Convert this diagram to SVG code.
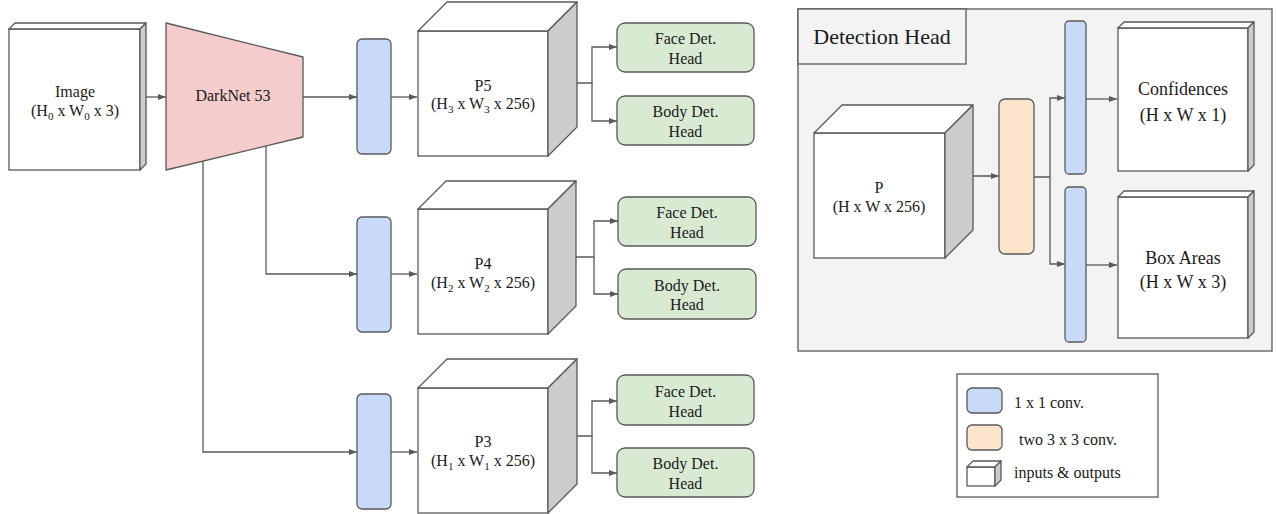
<svg xmlns="http://www.w3.org/2000/svg" width="1276" height="514" viewBox="0 0 1276 514" font-family="Liberation Serif, serif">
<style>
.ln{fill:none;stroke:#595959;stroke-width:1.3}
.ar{marker-end:url(#ah)}
.fr{fill:#ffffff;stroke:#595959;stroke-width:1.3}
.sd{fill:#cccccc;stroke:#595959;stroke-width:1.3;stroke-linejoin:round}
.tp{fill:#ffffff;stroke:#595959;stroke-width:1.3;stroke-linejoin:round}
.conv{fill:#c9daf8;stroke:#595959;stroke-width:1.3}
.c33{fill:#fce5cd;stroke:#595959;stroke-width:1.3}
.hd{fill:#d9ead3;stroke:#595959;stroke-width:1.3}
text{font-family:'Liberation Serif',serif;fill:#1a1a1a;font-size:16px}
.m{text-anchor:middle}
.l18{font-size:18px}
.sub{font-size:11px}
</style>
<defs>
<marker id="ah" markerUnits="userSpaceOnUse" markerWidth="9" markerHeight="7" refX="8" refY="3.5" orient="auto">
<path d="M0,0.5 L8,3.5 L0,6.5 z" fill="#595959"/>
</marker>
</defs>

<g id="connectors">
<path class="ln ar" d="M146,97 H166"/>
<path class="ln ar" d="M303,97 H357"/>
<path class="ln ar" d="M391,97 H417"/>
<path class="ln ar" d="M567,83 H592 V47 H617"/>
<path class="ln ar" d="M592,83 V121 H617"/>
<path class="ln ar" d="M266,146 V274 H357"/>
<path class="ln ar" d="M391,274 H417"/>
<path class="ln ar" d="M568,257 H594 V221 H618"/>
<path class="ln ar" d="M594,257 V294 H618"/>
<path class="ln ar" d="M203,161 V452 H357"/>
<path class="ln ar" d="M391,452 H417"/>
<path class="ln ar" d="M567,436 H592 V401 H617"/>
<path class="ln ar" d="M592,436 V473 H617"/>
</g>

<g id="image">
<rect class="fr" x="9" y="29" width="131" height="141"/>
<polygon class="tp" points="9,29 15,23 146,23 140,29"/>
<polygon class="sd" points="140,29 146,23 146,164 140,170"/>
<text class="m" x="75" y="97">Image</text>
<text class="m" x="75" y="116">(H<tspan class="sub" dy="4">0</tspan><tspan dy="-4"> x W</tspan><tspan class="sub" dy="4">0</tspan><tspan dy="-4"> x 3)</tspan></text>
</g>

<g id="darknet">
<polygon points="166,23 303,57 303,137 166,170" fill="#f4cccc" stroke="#595959" stroke-width="1.3" stroke-linejoin="round"/>
<text class="m" x="233" y="101">DarkNet 53</text>
</g>

<g id="conv5"><rect class="conv" x="357" y="39" width="34" height="115" rx="5"/></g>
<g id="conv4"><rect class="conv" x="357" y="217" width="34" height="115" rx="5"/></g>
<g id="conv3"><rect class="conv" x="357" y="394" width="34" height="115" rx="5"/></g>

<g id="p5">
<rect class="fr" x="418" y="31" width="130" height="125"/>
<polygon class="tp" points="418,31 447,2 577,2 548,31"/>
<polygon class="sd" points="548,31 577,2 577,127 548,156"/>
<text class="m" x="483" y="91">P5</text>
<text class="m" x="483" y="108.5">(H<tspan class="sub" dy="4">3</tspan><tspan dy="-4"> x W</tspan><tspan class="sub" dy="4">3</tspan><tspan dy="-4"> x 256)</tspan></text>
</g>

<g id="p4">
<rect class="fr" x="418" y="209" width="130" height="125"/>
<polygon class="tp" points="418,209 446,181 576,181 548,209"/>
<polygon class="sd" points="548,209 576,181 576,306 548,334"/>
<text class="m" x="483" y="269">P4</text>
<text class="m" x="483" y="288">(H<tspan class="sub" dy="4">2</tspan><tspan dy="-4"> x W</tspan><tspan class="sub" dy="4">2</tspan><tspan dy="-4"> x 256)</tspan></text>
</g>

<g id="p3">
<rect class="fr" x="418" y="388" width="130" height="125"/>
<polygon class="tp" points="418,388 447,359 577,359 548,388"/>
<polygon class="sd" points="548,388 577,359 577,484 548,513"/>
<text class="m" x="483" y="447">P3</text>
<text class="m" x="483" y="466">(H<tspan class="sub" dy="4">1</tspan><tspan dy="-4"> x W</tspan><tspan class="sub" dy="4">1</tspan><tspan dy="-4"> x 256)</tspan></text>
</g>

<g id="face5"><rect class="hd" x="617" y="23" width="137" height="49" rx="8"/>
<text class="m" x="685.5" y="44">Face Det.</text><text class="m" x="685.5" y="64">Head</text></g>
<g id="body5"><rect class="hd" x="617" y="96" width="137" height="49" rx="8"/>
<text class="m" x="685.5" y="117">Body Det.</text><text class="m" x="685.5" y="137">Head</text></g>
<g id="face4"><rect class="hd" x="618" y="197" width="138" height="49" rx="8"/>
<text class="m" x="687" y="218">Face Det.</text><text class="m" x="687" y="238">Head</text></g>
<g id="body4"><rect class="hd" x="618" y="269" width="138" height="50" rx="8"/>
<text class="m" x="687" y="291">Body Det.</text><text class="m" x="687" y="310">Head</text></g>
<g id="face3"><rect class="hd" x="617" y="375" width="137" height="50" rx="8"/>
<text class="m" x="685.5" y="397">Face Det.</text><text class="m" x="685.5" y="417">Head</text></g>
<g id="body3"><rect class="hd" x="617" y="448" width="137" height="49" rx="8"/>
<text class="m" x="685.5" y="469">Body Det.</text><text class="m" x="685.5" y="489">Head</text></g>

<g id="detection-head">
<rect x="798" y="9" width="474" height="342" fill="#f3f3f3" stroke="#595959" stroke-width="1.3"/>
<rect x="798" y="9" width="168" height="55" fill="#f3f3f3" stroke="#595959" stroke-width="1.3"/>
<text x="882" y="44" class="m" style="font-size:22px">Detection Head</text>
</g>

<g id="dh-connectors">
<path class="ln ar" d="M966,176 H999"/>
<path class="ln ar" d="M1034,177 H1050 V98 H1065"/>
<path class="ln ar" d="M1050,177 V264 H1065"/>
<path class="ln ar" d="M1086,99 H1117"/>
<path class="ln ar" d="M1086,265 H1117"/>
</g>

<g id="p-input">
<rect class="fr" x="814" y="133" width="131" height="125"/>
<polygon class="tp" points="814,133 842,105 973,105 945,133"/>
<polygon class="sd" points="945,133 973,105 973,230 945,258"/>
<text class="m" x="879" y="193">P</text>
<text class="m" x="879" y="212">(H x W x 256)</text>
</g>

<g id="conv33"><rect class="c33" x="999" y="99" width="35" height="155" rx="6"/></g>
<g id="conv-conf"><rect class="conv" x="1065" y="21" width="21" height="153" rx="4"/></g>
<g id="conv-box"><rect class="conv" x="1065" y="187" width="21" height="155" rx="4"/></g>

<g id="confidences">
<rect class="fr" x="1118" y="28" width="130" height="143"/>
<polygon class="tp" points="1118,28 1124,22 1254,22 1248,28"/>
<polygon class="sd" points="1248,28 1254,22 1254,165 1248,171"/>
<text class="m l18" x="1183" y="95">Confidences</text>
<text class="m l18" x="1183" y="121">(H x W x 1)</text>
</g>

<g id="box-areas">
<rect class="fr" x="1118" y="197" width="130" height="141"/>
<polygon class="tp" points="1118,197 1124,191 1254,191 1248,197"/>
<polygon class="sd" points="1248,197 1254,191 1254,332 1248,338"/>
<text class="m l18" x="1183" y="264">Box Areas</text>
<text class="m l18" x="1183" y="288">(H x W x 3)</text>
</g>

<g id="legend">
<rect x="957" y="374" width="201" height="123" fill="#ffffff" stroke="#595959" stroke-width="1.3"/>
<rect class="conv" x="967" y="388" width="35" height="25" rx="5"/>
<rect class="c33" x="967" y="425" width="35" height="25" rx="5"/>
<rect class="fr" x="967" y="467" width="28" height="19"/>
<polygon class="tp" points="967,467 973,461 1001,461 995,467"/>
<polygon class="sd" points="995,467 1001,461 1001,480 995,486"/>
<text x="1014" y="408">1 x 1 conv.</text>
<text x="1019" y="445">two 3 x 3 conv.</text>
<text x="1014" y="478">inputs &amp; outputs</text>
</g>
</svg>
